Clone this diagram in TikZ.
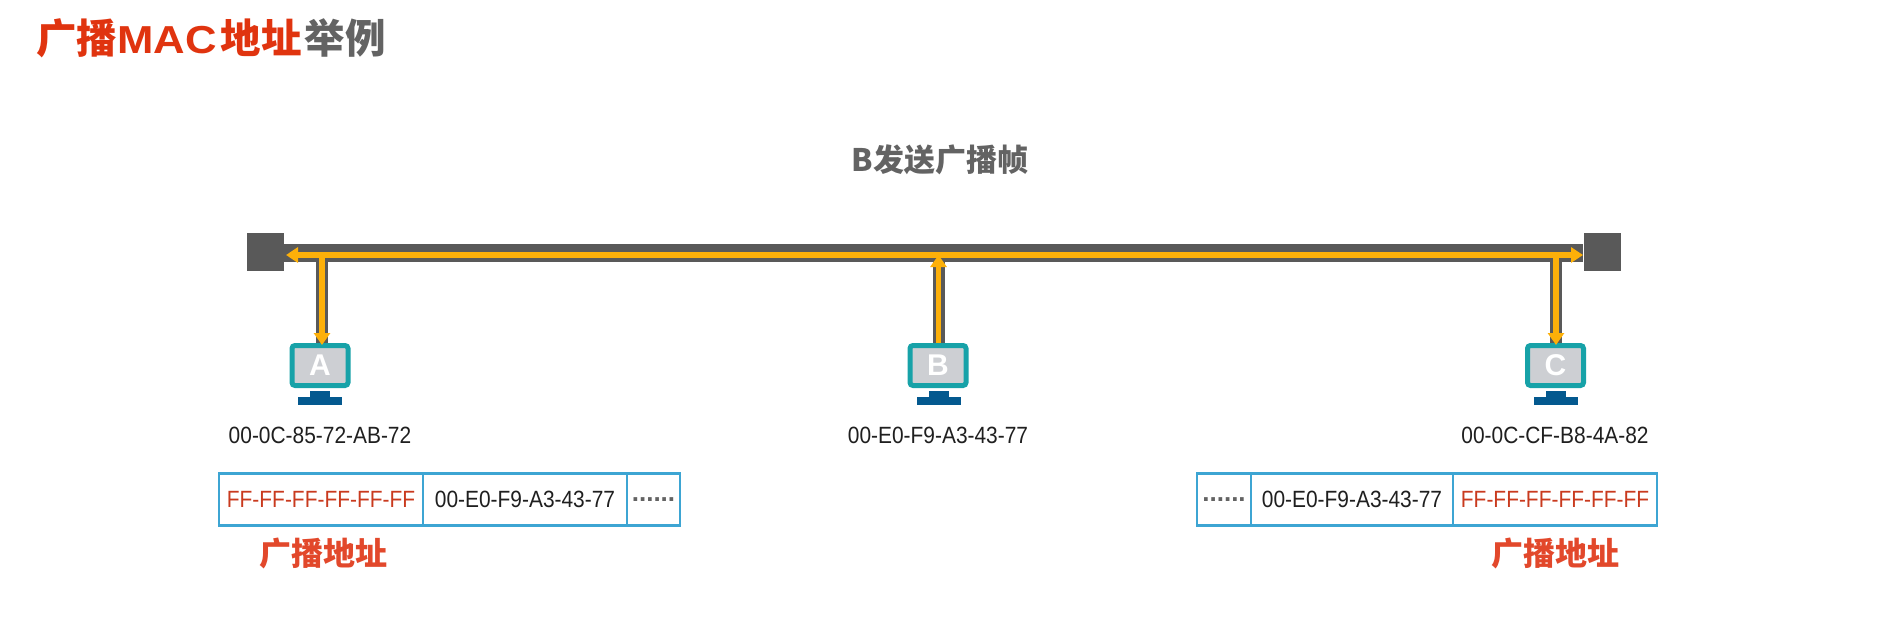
\documentclass[tikz,border=0pt]{standalone}
\usepackage{fontspec}
\setmainfont{Liberation Sans}
\newfontfamily\cjk{Noto Sans CJK SC}
\newfontfamily\narrowsans[FakeStretch=0.89]{Liberation Sans}
\newfontfamily\widesans[FakeStretch=1.12]{Liberation Sans}
\usetikzlibrary{arrows.meta}
\definecolor{busgrey}{HTML}{595959}
\definecolor{titlered}{HTML}{E0340F}
\definecolor{labelred}{HTML}{E2482B}
\definecolor{addrred}{HTML}{C93A1E}
\definecolor{textgrey}{HTML}{636363}
\definecolor{signal}{HTML}{FDB009}
\definecolor{teal}{HTML}{17A2A8}
\definecolor{screen}{HTML}{CDCFD3}
\definecolor{standblue}{HTML}{04598F}
\definecolor{cellblue}{HTML}{3DA5D3}
\newcommand{\px}[1]{\fontsize{#1bp}{#1bp}\selectfont}
\tikzset{
  endcap/.style={fill=busgrey,draw=none,minimum width=37bp,minimum height=38bp,inner sep=0pt,outer sep=0pt},
  bus/.style={draw=busgrey,line width=18bp},
  drop/.style={draw=busgrey,line width=12bp},
  sig/.style={draw=signal,line width=5.5bp},
  sigtip/.style={-{Triangle[length=12bp,width=16bp]}},
  monitor/.style={draw=teal,fill=screen,line width=5bp,rounded corners=3bp,minimum width=56bp,minimum height=40bp,inner sep=0pt,outer sep=2.5bp,text=white,font=\bfseries\px{30}},
  stand/.style={fill=standblue,draw=none,inner sep=0pt,outer sep=0pt},
  mac/.style={font=\narrowsans\px{23.5},inner sep=0pt,text=black!88},
  cell/.style={draw=cellblue,line width=2.5bp,minimum height=52bp,inner sep=0pt,outer sep=0pt,font=\narrowsans\px{23.5},text=black!88},
  ffcell/.style={cell,text=addrred},
  dotcell/.style={cell,text=textgrey,font=\bfseries\px{26}},
  bcast/.style={font=\cjk\bfseries\px{32},text=labelred,inner sep=0pt},
}
\begin{document}
\begin{tikzpicture}[x=1bp,y=-1bp]
\useasboundingbox (0,0) rectangle (1890,637);
% title
\node[anchor=west,inner sep=0pt,font=\cjk\bfseries\px{40.5}] (title) at (36,38)
  {\textcolor{titlered}{广播{\widesans\bfseries\px{39}MAC}\hspace{4bp}地址}\hspace{3bp}\textcolor{textgrey}{举例}};
\node[inner sep=0pt,font=\cjk\bfseries\px{31},text=textgrey] (head) at (940,160) {B发送广播帧};
% bus
\node[endcap] (capL) at (265.5,252) {};
\node[endcap] (capR) at (1602,252) {};
\coordinate (busL) at (284,253);
\coordinate (busR) at (1583,253);
\coordinate (jA) at (322,253);
\coordinate (jB) at (938.5,253);
\coordinate (jC) at (1556,253);
\coordinate (sA) at (322,255);
\coordinate (sB) at (938.5,255);
\coordinate (sC) at (1556,255);
% monitors
\node[monitor] (A) at (320,365.5) {A};
\node[monitor] (B) at (938,365.5) {B};
\node[monitor] (C) at (1555.5,365.5) {C};
\foreach \m/\cx in {A/320,B/938.5,C/1556}{
  \node[stand,minimum width=20bp,minimum height=7bp] (\m stem) at (\cx,394.5) {};
  \node[stand,minimum width=44bp,minimum height=8bp] (\m base) at (\cx,401) {};
}
\draw[bus] (busL) -- (busR);
\draw[drop] (jA) -- (jA |- A.north);
\draw[drop] (jB) -- (jB |- B.north);
\draw[drop] (jC) -- (jC |- C.north);
\coordinate (sL) at (286,255);
\coordinate (sR) at (1583,255);
\draw[sig,{Triangle[length=12bp,width=15bp]}-{Triangle[length=12bp,width=15bp]}] (sL) -- (sR);
\draw[sig,sigtip] (sA) -- ([yshift=-2bp]sA |- A.north);
\draw[sig,sigtip] (sB |- B.north) -- (sB);
\draw[sig,sigtip] (sC) -- ([yshift=-2bp]sC |- C.north);
% MAC labels
\node[mac] (macA) at (320,435) {00-0C-85-72-AB-72};
\node[mac] (macB) at (938,435) {00-E0-F9-A3-43-77};
\node[mac] (macC) at (1555,435) {00-0C-CF-B8-4A-82};
% frames
\node[ffcell,minimum width=204bp] (f1) at (321,499.5) {FF-FF-FF-FF-FF-FF};
\node[cell,minimum width=204bp] (f2) at (525,499.5) {00-E0-F9-A3-43-77};
\node[dotcell,minimum width=53bp] (f3) at (653.5,499.5) {......};
\node[dotcell,minimum width=54bp] (g1) at (1224,499.5) {......};
\node[cell,minimum width=202bp] (g2) at (1352,499.5) {00-E0-F9-A3-43-77};
\node[ffcell,minimum width=204bp] (g3) at (1555,499.5) {FF-FF-FF-FF-FF-FF};
\node[bcast] (la) at (323,553) {广播地址};
\node[bcast] (lb) at (1555,553) {广播地址};
\end{tikzpicture}
\end{document}
